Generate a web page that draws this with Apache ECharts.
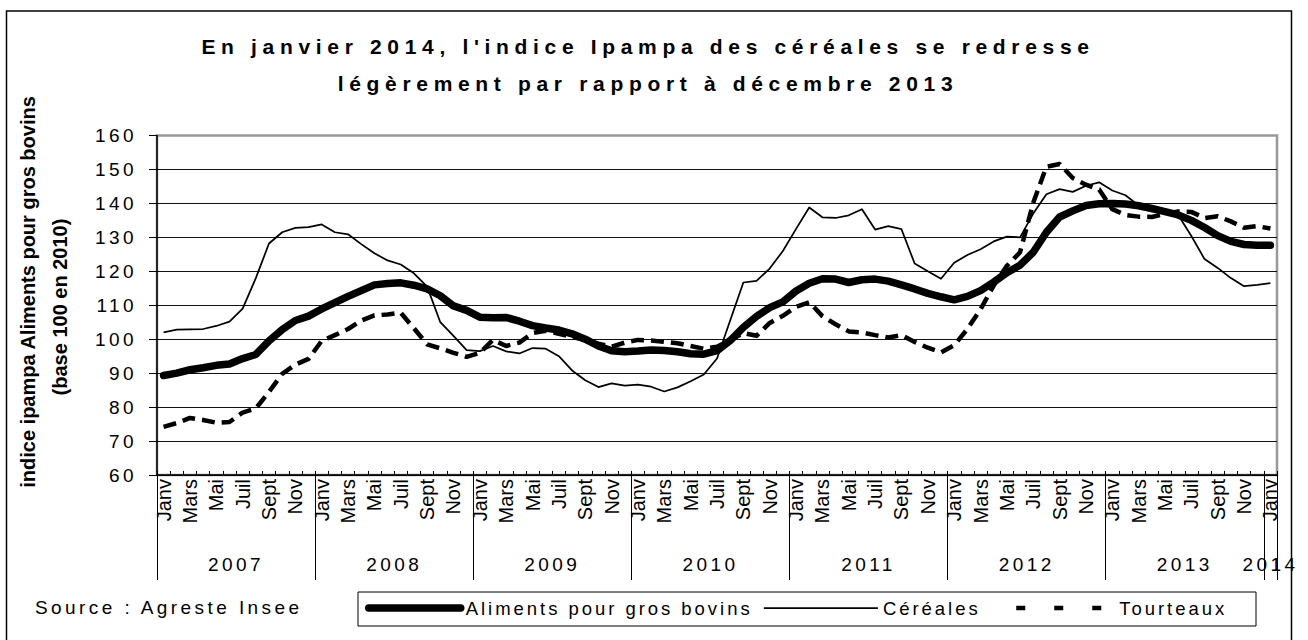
<!DOCTYPE html>
<html>
<head>
<meta charset="utf-8">
<title>Indice Ipampa</title>
<script src="https://cdn.jsdelivr.net/npm/echarts@6/dist/echarts.min.js"></script>
<style>
  html, body { margin: 0; padding: 0; background: #fff; }
  #chart { width: 1308px; height: 640px; }
  /* espacement des lettres façon Excel */
  #chart text { letter-spacing: 0.18em; }
  #chart text[style*="21px"] { letter-spacing: 0.27em; }
  #chart text[style*="20px"] { letter-spacing: 0; }
  #chart text[style*="18.5px"] { letter-spacing: 0.16em; }
</style>
</head>
<body>
<div id="chart"></div>
<script>
'use strict';

const monthNames = ['Janv', 'Févr', 'Mars', 'Avr', 'Mai', 'Juin', 'Juil', 'Août', 'Sept', 'Oct', 'Nov', 'Déc'];
const yearLabels = ['2007', '2008', '2009', '2010', '2011', '2012', '2013', '2014'];
// bornes des années et centres des étiquettes (en mois depuis janv. 2007)
const yearBounds = [0, 12, 24, 36, 48, 60, 72, 84, 85];
const yearCenters = [6, 18, 30, 42, 54, 66, 78, 84.5];
const yTicks = [60, 70, 80, 90, 100, 110, 120, 130, 140, 150, 160];

// janv. 2007 -> janv. 2014
const alimentsBovins = [
    89.3, 90.0, 91.0, 91.6, 92.3, 92.7, 94.3, 95.5, 99.5, 102.8, 105.5, 106.8,
    108.9, 110.8, 112.6, 114.3, 116.0, 116.4, 116.6, 115.9, 114.8, 112.8, 109.8, 108.5,
    106.5, 106.3, 106.4, 105.3, 104.0, 103.3, 102.7, 101.6, 100.0, 98.0, 96.6, 96.3,
    96.5, 96.8, 96.7, 96.3, 95.7, 95.6, 96.6, 99.6, 103.5, 106.7, 109.3, 111.0,
    114.2, 116.5, 117.8, 117.7, 116.7, 117.5, 117.7, 117.1, 116.0, 114.8, 113.5, 112.5,
    111.6, 112.6, 114.3, 116.8, 119.6, 121.8, 125.6, 131.5, 136.0, 137.8, 139.4, 139.9,
    140.0, 139.8, 139.3, 138.5, 137.6, 136.6, 135.0, 132.9, 130.5, 128.8, 127.9, 127.7,
    127.7
];
const cereales = [
    102.0, 102.8, 102.9, 103.0, 103.9, 105.2, 109.0, 118.0, 128.2, 131.5, 132.8, 133.0,
    133.8, 131.5, 130.9, 128.0, 125.3, 123.2, 122.0, 119.4, 115.5, 105.0, 101.0, 96.8,
    96.5, 98.0, 96.4, 95.8, 97.4, 97.2, 95.0, 90.8, 87.9, 85.9, 87.0, 86.3,
    86.6, 86.0, 84.6, 85.8, 87.6, 89.6, 94.3, 105.5, 116.7, 117.2, 120.8, 126.0,
    132.5, 138.8, 135.9, 135.7, 136.5, 138.3, 132.3, 133.3, 132.4, 122.3, 120.0, 117.8,
    122.5, 124.8, 126.5, 128.8, 130.2, 130.0, 137.0, 142.7, 144.2, 143.4, 145.2, 146.2,
    143.8, 142.4, 139.4, 138.2, 138.0, 136.6, 130.4, 123.6, 121.0, 118.0, 115.6, 116.0,
    116.5
];
const tourteaux = [
    74.2, 75.3, 76.8, 76.2, 75.4, 75.6, 78.4, 79.6, 84.5, 89.8, 92.5, 94.2,
    99.5, 101.2, 103.0, 105.5, 107.0, 107.3, 107.8, 103.2, 98.5, 97.3, 96.0, 94.8,
    96.0, 99.8, 98.0, 99.0, 101.8, 102.5, 101.6, 100.6, 99.8, 98.7, 97.8, 99.0,
    99.8, 99.6, 99.2, 98.8, 98.0, 97.2, 97.8, 99.8, 101.8, 101.0, 104.8, 106.9,
    109.5, 110.9, 106.8, 104.4, 102.3, 102.0, 101.2, 100.5, 101.2, 99.2, 97.5, 96.1,
    98.2, 103.0, 108.8, 115.8, 121.6, 125.6, 140.2, 150.8, 151.6, 147.5, 145.5, 144.1,
    138.3, 136.6, 136.1, 136.0, 136.9, 137.6, 137.5, 135.7, 136.2, 134.7, 132.8, 133.3,
    132.6
];

const categories = [];
for (let y = 0; y < 7; y++) {
    monthNames.forEach((m) => categories.push(m));
}
categories.push('Janv');

const FONT = '"Liberation Sans", Arial, sans-serif';

// légende : une par série, sans symbole sur la ligne
function legendFor(name, left, itemWidth, lineStyle) {
    return {
        data: [name],
        left: left,
        top: 598.5,
        padding: 0,
        itemWidth: itemWidth,
        itemHeight: 14,
        selectedMode: false,
        textStyle: { fontSize: 18.5, color: '#000', fontFamily: FONT },
        itemStyle: { color: 'rgba(0,0,0,0)', borderWidth: 0, opacity: 0 },
        lineStyle: lineStyle,
    };
}

function init() {
    const chart = echarts.init(document.getElementById('chart'), null, { renderer: 'svg' });
    const option = {
        animation: false,
        backgroundColor: '#fff',
        textStyle: { fontFamily: FONT, color: '#000' },
        grid: {
            left: 157,
            right: 31,
            top: 135.5,
            bottom: 165,
            show: true,
            borderColor: '#999',
            borderWidth: 2.5,
            outerBoundsMode: 'none',
        },
        xAxis: [
            {
                type: 'category',
                data: categories,
                position: 'bottom',
                axisLine: { lineStyle: { color: '#000', width: 1.5 } },
                axisTick: { show: true, inside: true, length: 4, interval: 0, lineStyle: { color: '#000', width: 1 } },
                axisLabel: { interval: 1, rotate: 90, margin: 4, fontSize: 20, color: '#000', fontFamily: FONT },
                splitLine: { show: false },
            },
            {
                // années : séparateurs et étiquettes
                type: 'value',
                position: 'bottom',
                min: 0,
                max: 85,
                axisLine: { show: false },
                splitLine: { show: false },
                axisTick: { show: true, length: 105, customValues: yearBounds, lineStyle: { color: '#000', width: 1 } },
                axisLabel: {
                    show: true,
                    customValues: yearCenters,
                    margin: 80,
                    fontSize: 19,
                    color: '#000',
                    fontFamily: FONT,
                    formatter: (v) => yearLabels[Math.floor(v / 12)],
                },
            },
        ],
        yAxis: {
            type: 'value',
            min: yTicks[0],
            max: yTicks[yTicks.length - 1],
            interval: 10,
            axisLine: { show: true, lineStyle: { color: '#000', width: 1.5 } },
            axisTick: { show: true, length: 8, lineStyle: { color: '#000', width: 1 } },
            axisLabel: { margin: 20, fontSize: 19, color: '#000', fontFamily: FONT },
            splitLine: { show: true, showMaxLine: false, lineStyle: { color: '#111', width: 1 } },
        },
        legend: [
            legendFor('Aliments pour gros bovins', 365, 92, { width: 7.5, cap: 'round', type: 'solid', color: '#000' }),
            legendFor('Céréales', 763, 114, { width: 1.75, type: 'solid', color: '#000' }),
            legendFor('Tourteaux', 1014, 98, { width: 4.5, type: [9, 29], color: '#000' }),
        ],
        series: [
            {
                name: 'Aliments pour gros bovins',
                type: 'line',
                data: alimentsBovins,
                symbol: 'none',
                silent: true,
                color: '#000',
                lineStyle: { width: 7.5, color: '#000', join: 'round', cap: 'round' },
            },
            {
                name: 'Céréales',
                type: 'line',
                data: cereales,
                symbol: 'none',
                silent: true,
                color: '#000',
                lineStyle: { width: 1.75, color: '#000', join: 'round' },
            },
            {
                name: 'Tourteaux',
                type: 'line',
                data: tourteaux,
                symbol: 'none',
                silent: true,
                color: '#000',
                lineStyle: { width: 4.5, color: '#000', type: [13, 7], join: 'round' },
            },
        ],
        graphic: [
            // cadre du graphique
            {
                type: 'rect', silent: true,
                shape: { x: 6.5, y: 11, width: 1285, height: 640 },
                style: { fill: 'none', stroke: '#000', lineWidth: 1.5 },
            },
            // cadre de la légende
            {
                type: 'rect', silent: true,
                shape: { x: 358, y: 592, width: 898, height: 34 },
                style: { fill: 'none', stroke: '#000', lineWidth: 1 },
            },
            {
                type: 'text', x: 648, y: 46, silent: true,
                style: {
                    text: "En janvier 2014, l'indice Ipampa des céréales se redresse",
                    fontSize: 21, fontWeight: 'bold', fontFamily: FONT, fill: '#000',
                    align: 'center', verticalAlign: 'middle',
                },
            },
            {
                type: 'text', x: 648, y: 83, silent: true,
                style: {
                    text: 'légèrement par rapport à décembre 2013',
                    fontSize: 21, fontWeight: 'bold', fontFamily: FONT, fill: '#000',
                    align: 'center', verticalAlign: 'middle',
                },
            },
            {
                type: 'text', x: 28, y: 292, rotation: Math.PI / 2, silent: true,
                style: {
                    text: 'indice ipampa Aliments pour gros bovins',
                    fontSize: 20, fontWeight: 'bold', fontFamily: FONT, fill: '#000',
                    align: 'center', verticalAlign: 'middle',
                },
            },
            {
                type: 'text', x: 60, y: 307, rotation: Math.PI / 2, silent: true,
                style: {
                    text: '(base 100 en 2010)',
                    fontSize: 20, fontWeight: 'bold', fontFamily: FONT, fill: '#000',
                    align: 'center', verticalAlign: 'middle',
                },
            },
            {
                type: 'text', x: 35, y: 607, silent: true,
                style: {
                    text: 'Source : Agreste Insee',
                    fontSize: 19, fontFamily: FONT, fill: '#000',
                    align: 'left', verticalAlign: 'middle',
                },
            },
        ],
    };
    chart.setOption(option);

    window.addEventListener('resize', () => {
        chart.resize();
    });
}

(function () {
    init();
})();
</script>
</body>
</html>
